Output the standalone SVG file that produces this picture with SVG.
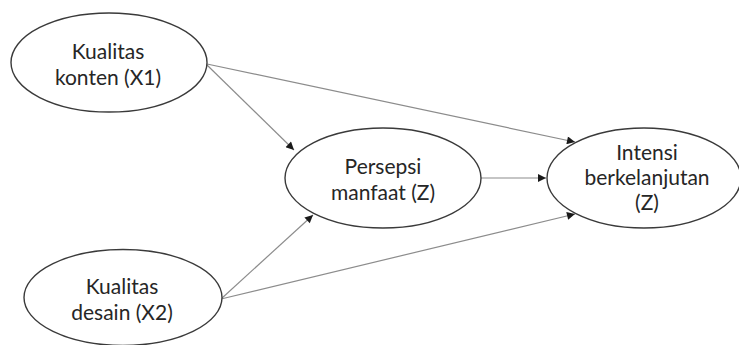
<svg xmlns="http://www.w3.org/2000/svg" width="739" height="345" viewBox="0 0 739 345">
<style>
.node ellipse{fill:#fff;stroke:#3a3a3a;stroke-width:1.4}
.node text{font-family:Lato,"Open Sans",sans-serif;font-size:21px;fill:#262626;text-anchor:middle}
.edge{stroke:#8c8c8c;stroke-width:1.2;fill:none;marker-end:url(#arr)}
</style>
<defs>
<marker id="arr" viewBox="0 0 10 10" refX="10" refY="5" markerWidth="9" markerHeight="8" markerUnits="userSpaceOnUse" orient="auto">
<path d="M0,0L10,5L0,10Z" fill="#1a1a1a"/>
</marker>
</defs>
<rect width="739" height="345" fill="#fff"/>
<g id="connectors">
<line class="edge" x1="207" y1="64" x2="575" y2="142"/>
<line class="edge" x1="207" y1="65" x2="294" y2="150"/>
<line class="edge" x1="481" y1="178" x2="546" y2="178"/>
<line class="edge" x1="221" y1="299" x2="313" y2="215"/>
<line class="edge" x1="221" y1="299" x2="575" y2="214"/>
</g>
<g id="x1" class="node">
<ellipse cx="109" cy="62.5" rx="98" ry="49.5"/>
<text x="108" y="58.5">Kualitas</text>
<text x="108" y="85">konten (X1)</text>
</g>
<g id="z" class="node">
<ellipse cx="383" cy="178" rx="98" ry="50"/>
<text x="383" y="174">Persepsi</text>
<text x="383" y="200">manfaat (Z)</text>
</g>
<g id="y" class="node">
<ellipse cx="644" cy="178" rx="97" ry="50"/>
<text x="647" y="160">Intensi</text>
<text x="647" y="185">berkelanjutan</text>
<text x="647" y="210">(Z)</text>
</g>
<g id="x2" class="node">
<ellipse cx="123" cy="297.5" rx="99" ry="48"/>
<text x="122" y="293.5">Kualitas</text>
<text x="122" y="320">desain (X2)</text>
</g>
</svg>
